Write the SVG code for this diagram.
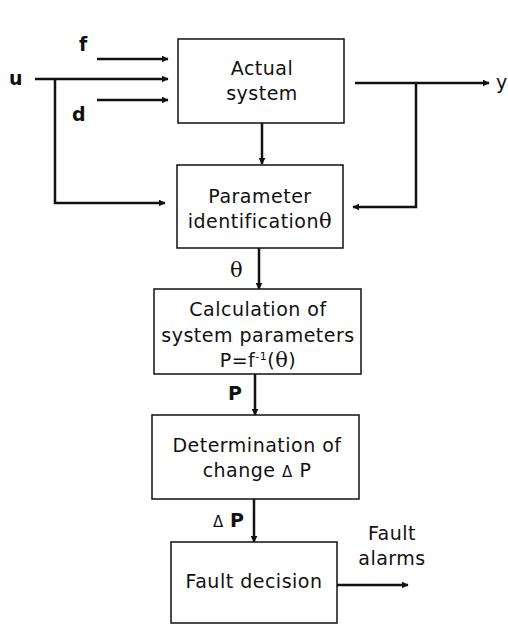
<svg xmlns="http://www.w3.org/2000/svg" width="508" height="625" viewBox="0 0 508 625">
<style>
.box{fill:#fff;stroke:#111;stroke-width:1.5}
.ln{fill:none;stroke:#111;stroke-width:2.5}
.t{font-family:"DejaVu Sans",sans-serif;font-size:19px;letter-spacing:0.5px;fill:#111;text-anchor:middle}
.l{font-family:"DejaVu Sans",sans-serif;font-size:19px;fill:#111}
.s{font-family:"DejaVu Serif",serif;font-size:21px;fill:#111}
</style>
<defs>
<marker id="ah" viewBox="0 0 10 10" refX="9" refY="5" markerWidth="7" markerHeight="7" markerUnits="userSpaceOnUse" orient="auto">
<path d="M0,0 L10,5 L0,10 Z" fill="#111"/>
</marker>
</defs>
<rect width="508" height="625" fill="#fff"/>
<g id="connectors">
<line class="ln" x1="97" y1="59" x2="168" y2="59" marker-end="url(#ah)"/>
<line class="ln" x1="35" y1="79" x2="168" y2="79" marker-end="url(#ah)"/>
<line class="ln" x1="97" y1="100" x2="168" y2="100" marker-end="url(#ah)"/>
<polyline class="ln" points="55,79 55,203 165,203" marker-end="url(#ah)"/>
<line class="ln" x1="355" y1="83" x2="489" y2="83" marker-end="url(#ah)"/>
<polyline class="ln" points="416,83 416,207 353,207" marker-end="url(#ah)"/>
<line class="ln" x1="262" y1="123" x2="262" y2="164" marker-end="url(#ah)"/>
<line class="ln" x1="259" y1="248" x2="259" y2="289" marker-end="url(#ah)"/>
<line class="ln" x1="255" y1="374" x2="255" y2="415" marker-end="url(#ah)"/>
<line class="ln" x1="254" y1="499" x2="254" y2="542" marker-end="url(#ah)"/>
<line class="ln" x1="337" y1="585" x2="408" y2="585" marker-end="url(#ah)"/>
</g>
<g id="labels">
<text class="l" x="79" y="51" font-weight="bold">f</text>
<text class="l" x="9" y="85" font-weight="bold">u</text>
<text class="l" x="72" y="121" font-weight="bold">d</text>
<text class="l" x="496" y="89">y</text>
<text class="s" x="230" y="277">θ</text>
<text class="l" x="228" y="400" font-weight="bold">P</text>
<text class="l" x="213" y="527" font-weight="bold"><tspan font-weight="normal" font-size="15">Δ</tspan> P</text>
<text class="t" x="392" y="540">Fault</text>
<text class="t" x="392" y="565">alarms</text>
</g>
<g id="actual-system">
<rect class="box" x="178" y="39" width="166" height="84"/>
<text class="t" x="262" y="75">Actual</text>
<text class="t" x="262" y="100">system</text>
</g>
<g id="parameter-identification">
<rect class="box" x="177" y="165" width="166" height="83"/>
<text class="t" x="260" y="203">Parameter</text>
<text class="t" x="260" y="228">identification<tspan font-family="DejaVu Serif,serif" font-size="21">θ</tspan></text>
</g>
<g id="calculation">
<rect class="box" x="154" y="289" width="207" height="85"/>
<text class="t" x="258" y="316">Calculation of</text>
<text class="t" x="258" y="342">system parameters</text>
<text class="t" x="258" y="367">P=f<tspan font-size="11" dy="-7">-1</tspan><tspan dy="7">(</tspan><tspan font-family="DejaVu Serif,serif" font-size="21">θ</tspan>)</text>
</g>
<g id="determination">
<rect class="box" x="152" y="415" width="207" height="84"/>
<text class="t" x="257" y="452">Determination of</text>
<text class="t" x="257" y="477">change  <tspan font-size="15">Δ</tspan> P</text>
</g>
<g id="fault-decision">
<rect class="box" x="171" y="542" width="166" height="81"/>
<text class="t" x="254" y="588">Fault decision</text>
</g>
</svg>
